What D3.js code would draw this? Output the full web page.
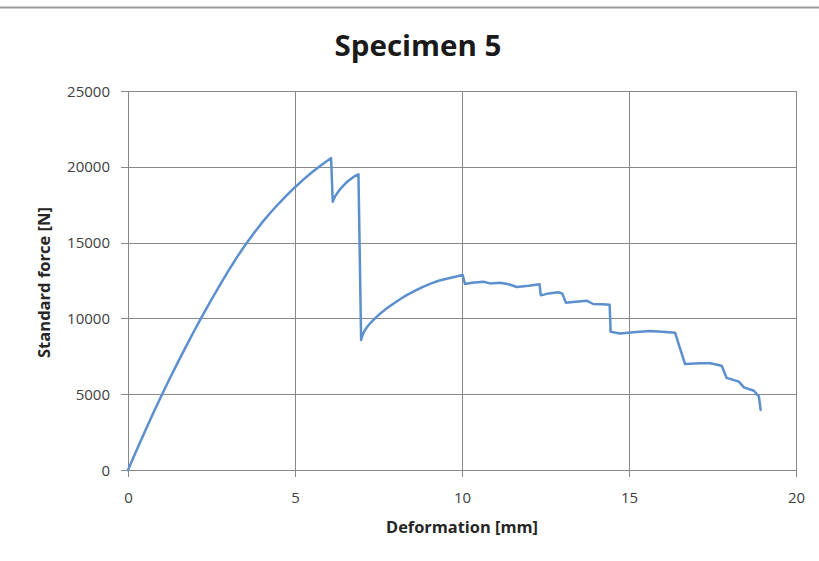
<!DOCTYPE html>
<html>
<head>
<meta charset="utf-8">
<script src="https://cdn.jsdelivr.net/npm/d3@7"></script>
<style>
  html, body { margin: 0; padding: 0; background: #ffffff; }
  svg { display: block; }
  text { font-family: "Open Sans", "DejaVu Sans", sans-serif; }
</style>
</head>
<body>
<svg id="chart" width="819" height="561"></svg>
<script>
// Tensile test record: deformation in mm, standard force in N
const deformation = [
  0, 0.25, 0.5, 0.75, 1.0, 1.25, 1.5, 1.75, 2.0, 2.25, 2.5, 2.75, 3.0,
  3.25, 3.5, 3.75, 4.0, 4.25, 4.5, 4.75, 5.0, 5.25, 5.5, 5.75, 6.0, 6.08,
  6.13, 6.2, 6.3, 6.4, 6.5, 6.6, 6.7, 6.8, 6.9,
  6.98, 7.02, 7.1, 7.2, 7.34, 7.5, 7.7, 7.9, 8.1, 8.24, 8.4, 8.6, 8.8,
  9.04, 9.3, 9.54, 9.8, 10.02,
  10.09, 10.3, 10.64, 10.84, 11.14, 11.4, 11.64, 12.0, 12.32,
  12.36, 12.6, 12.88, 13.0,
  13.11, 13.4, 13.73, 13.93, 14.2, 14.42,
  14.45, 14.73, 15.13, 15.63, 16.0, 16.38,
  16.48, 16.68, 17.13, 17.43, 17.68, 17.78,
  17.92, 18.29, 18.44, 18.74, 18.89, 18.94
];
const force = [
  0, 1272, 2513, 3721, 4894, 6032, 7136, 8207, 9249, 10262, 11247, 12203, 13123,
  13994, 14811, 15574, 16283, 16937, 17545, 18117, 18654, 19155, 19621, 20051, 20449, 20571,
  17700, 18050, 18380, 18650, 18880, 19080, 19250, 19400, 19500,
  8575, 8900, 9250, 9550, 9890, 10220, 10580, 10900, 11200, 11400, 11600, 11830, 12050,
  12280, 12480, 12620, 12750, 12860,
  12270, 12350, 12420, 12310, 12350, 12250, 12070, 12150, 12250,
  11520, 11650, 11720, 11650,
  11040, 11100, 11170, 10950, 10930, 10900,
  9120, 9010, 9080, 9170, 9120, 9060,
  8360, 6990, 7040, 7040, 6930, 6860,
  6080, 5830, 5450, 5230, 4840, 3960
];

const xTicks = [0, 5, 10, 15, 20];
const yTicks = [0, 5000, 10000, 15000, 20000, 25000];

const titleText = "Specimen 5";
const xTitle = "Deformation [mm]";
const yTitle = "Standard force [N]";

const svg = d3.select("#chart");
const W = 819;

const plot = { left: 128, right: 796, top: 91, bottom: 470 };

const x = d3.scaleLinear().domain([0, 20]).range([plot.left, plot.right]);
const y = d3.scaleLinear().domain([0, 25000]).range([plot.bottom, plot.top]);

const gridColor = "#888888";

// page rule across the top
svg.append("line")
  .attr("x1", 0).attr("x2", W)
  .attr("y1", 7.5).attr("y2", 7.5)
  .attr("stroke", "#9c9c9c").attr("stroke-width", 2);

// title
svg.append("text")
  .attr("x", 418).attr("y", 56)
  .attr("text-anchor", "middle")
  .attr("font-size", 29).attr("font-weight", 700)
  .attr("fill", "#1a1a1a")
  .attr("textLength", 167).attr("lengthAdjust", "spacingAndGlyphs")
  .text(titleText);

// horizontal gridlines + y axis
const yAxis = d3.axisLeft(y).tickValues(yTicks).tickSizeInner(-(plot.right - plot.left)).tickSizeOuter(0).tickPadding(18).tickFormat(d3.format("d"));
const gy = svg.append("g").attr("transform", `translate(${plot.left},0)`).call(yAxis);
gy.select(".domain").remove();
gy.selectAll(".tick line").attr("stroke", gridColor).attr("stroke-width", 1)
  .attr("x1", -7).attr("shape-rendering", "crispEdges");
gy.selectAll(".tick text").attr("font-size", 15).attr("fill", "#404040")
  .attr("font-family", "'Open Sans', sans-serif").attr("x", -18).attr("dy", "0.34em");

// vertical gridlines + x axis
const xAxis = d3.axisBottom(x).tickValues(xTicks).tickSizeInner(-(plot.bottom - plot.top)).tickSizeOuter(0).tickPadding(20).tickFormat(d3.format("d"));
const gx = svg.append("g").attr("transform", `translate(0,${plot.bottom})`).call(xAxis);
gx.select(".domain").remove();
gx.selectAll(".tick line").attr("stroke", gridColor).attr("stroke-width", 1)
  .attr("y1", 7).attr("shape-rendering", "crispEdges");
gx.selectAll(".tick text").attr("font-size", 15).attr("fill", "#404040")
  .attr("font-family", "'Open Sans', sans-serif").attr("y", 22).attr("dy", "0.71em");

// axis lines
svg.append("line")
  .attr("x1", plot.left).attr("x2", plot.left)
  .attr("y1", plot.top).attr("y2", plot.bottom)
  .attr("stroke", gridColor).attr("shape-rendering", "crispEdges");
svg.append("line")
  .attr("x1", plot.left).attr("x2", plot.right)
  .attr("y1", plot.bottom).attr("y2", plot.bottom)
  .attr("stroke", gridColor).attr("shape-rendering", "crispEdges");

// axis titles
svg.append("text")
  .attr("x", (plot.left + plot.right) / 2).attr("y", 533)
  .attr("text-anchor", "middle")
  .attr("font-size", 15.5).attr("font-weight", 700).attr("fill", "#262626")
  .attr("textLength", 152).attr("lengthAdjust", "spacingAndGlyphs")
  .text(xTitle);

svg.append("text")
  .attr("transform", `translate(50,${(plot.top + plot.bottom) / 2 + 2}) rotate(-90)`)
  .attr("text-anchor", "middle")
  .attr("font-size", 15.5).attr("font-weight", 700).attr("fill", "#262626")
  .attr("textLength", 151).attr("lengthAdjust", "spacingAndGlyphs")
  .text(yTitle);

// force-deformation curve
const pts = deformation.map((d, i) => [d, force[i]]);
const line = d3.line().x(d => x(d[0])).y(d => y(d[1]));
svg.append("path")
  .datum(pts)
  .attr("d", line)
  .attr("fill", "none")
  .attr("stroke", "#5b8fcd")
  .attr("stroke-width", 2.5)
  .attr("stroke-linejoin", "round")
  .attr("stroke-linecap", "round");
</script>
</body>
</html>
